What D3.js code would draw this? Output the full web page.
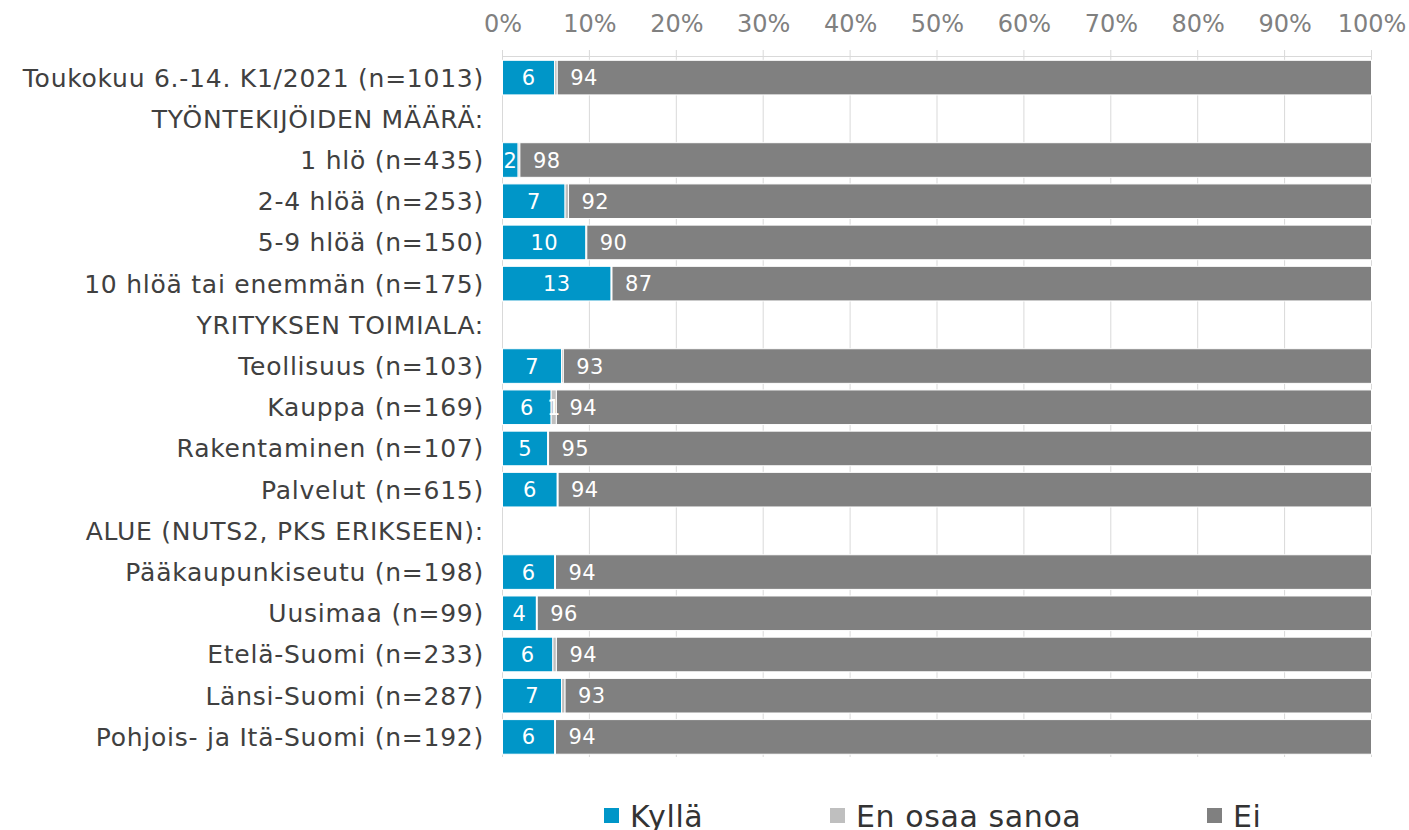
<!DOCTYPE html>
<html><head><meta charset="utf-8">
<script src="https://cdn.jsdelivr.net/npm/d3@7/dist/d3.min.js"></script>
<style>body{margin:0;background:#fff}svg{display:block}</style>
</head><body>
<svg id="c" width="1409" height="830"></svg>
<script>
const categories = [
  "Toukokuu 6.-14. K1/2021 (n=1013)",
  "TYÖNTEKIJÖIDEN MÄÄRÄ:",
  "1 hlö (n=435)",
  "2-4 hlöä (n=253)",
  "5-9 hlöä (n=150)",
  "10 hlöä tai enemmän (n=175)",
  "YRITYKSEN TOIMIALA:",
  "Teollisuus (n=103)",
  "Kauppa (n=169)",
  "Rakentaminen (n=107)",
  "Palvelut (n=615)",
  "ALUE (NUTS2, PKS ERIKSEEN):",
  "Pääkaupunkiseutu (n=198)",
  "Uusimaa (n=99)",
  "Etelä-Suomi (n=233)",
  "Länsi-Suomi (n=287)",
  "Pohjois- ja Itä-Suomi (n=192)"
];
const kylla = [6.0, null, 1.8, 7.2, 9.6, 12.5, null, 6.8, 5.6, 5.2, 6.3, null, 6.0, 3.9, 5.8, 6.8, 6.0];
const eos   = [0.3, null, 0.2, 0.4, 0.1, 0.1, null, 0.2, 0.6, 0.1, 0.1, null, 0.1, 0.1, 0.4, 0.4, 0.1];
const ei    = [93.7, null, 98.0, 92.4, 90.3, 87.4, null, 93.0, 93.8, 94.7, 93.6, null, 93.9, 96.0, 93.8, 92.8, 93.9];
const seriesNames = ["Kyllä", "En osaa sanoa", "Ei"];
const seriesColors = ["#0096c8", "#bfbfbf", "#808080"];
const xTicks = [0,10,20,30,40,50,60,70,80,90,100];

const svg = d3.select("#c");
const font = "Verdana, 'DejaVu Sans', sans-serif";
const x = d3.scaleLinear().domain([0,100]).range([502.5, 1371.5]);
const y = d3.scaleBand().domain(categories).range([57, 757.5]).paddingInner(0.16).paddingOuter(0.08);

// gridlines
svg.append("g").selectAll("line").data(xTicks).join("line")
  .attr("x1", d=>x(d)).attr("x2", d=>x(d)).attr("y1", 50).attr("y2", 757)
  .attr("stroke", "#d9d9d9").attr("stroke-width", 1);
svg.append("line").attr("x1", x(0)).attr("x2", x(100)).attr("y1", 56.5).attr("y2", 56.5)
  .attr("stroke", "#d9d9d9");

// top axis labels
const axis = d3.axisTop(x).tickValues(xTicks).tickFormat(d=>d+"%").tickSize(0).tickPadding(0);
const ag = svg.append("g").attr("transform","translate(0,32)").call(axis);
ag.select(".domain").remove();
ag.selectAll("text").attr("font-family", font).attr("font-size", 24).attr("fill", "#808080").attr("dy", 0);

// category labels
svg.append("g").selectAll("text").data(categories).join("text")
  .attr("x", 484).attr("y", d=>y(d)+y.bandwidth()/2).attr("dy", "0.36em")
  .attr("text-anchor","end").attr("font-family", font).attr("font-size", 25)
  .attr("letter-spacing", 0.75).attr("fill", "#404040")
  .text(d=>d);

// stacked bars
const series = [kylla, eos, ei];
const rows = categories.map((c,i)=>({c, vals: series.map(s=>s[i])})).filter(r=>r.vals[0]!==null);
const segs = [];
rows.forEach(r=>{
  let acc = 0;
  r.vals.forEach((v,k)=>{ segs.push({c:r.c, k, v, x0:acc, x1:acc+v}); acc += v; });
});
svg.append("g").selectAll("rect").data(segs).join("rect")
  .attr("x", d=>x(d.x0)).attr("width", d=>x(d.x1)-x(d.x0))
  .attr("y", d=>y(d.c)).attr("height", y.bandwidth())
  .attr("fill", d=>seriesColors[d.k]).attr("stroke", "#ffffff").attr("stroke-width", 1);

// data labels
svg.append("g").selectAll("text").data(segs.filter(d=>Math.round(d.v)>=1)).join("text")
  .attr("x", d=> d.k===2 ? x(d.x0)+13 : (x(d.x0)+x(d.x1))/2)
  .attr("text-anchor", d=> d.k===2 ? "start" : "middle")
  .attr("y", d=>y(d.c)+y.bandwidth()/2).attr("dy","0.36em")
  .attr("font-family", font).attr("font-size", 21).attr("letter-spacing", 0.4).attr("fill", "#ffffff")
  .text(d=>Math.round(d.v));

// legend
const legX = [604, 830, 1207];
const lg = svg.append("g").selectAll("g").data(seriesNames).join("g")
  .attr("transform", (d,i)=>`translate(${legX[i]},0)`);
lg.append("rect").attr("x",0).attr("y",808).attr("width",15).attr("height",15).attr("fill",(d,i)=>seriesColors[i]);
lg.append("text").attr("x", 26).attr("y", 827).attr("font-family", font).attr("font-size", 30)
  .attr("letter-spacing", 0.6).attr("fill", "#333333").text(d=>d);
</script>
</body></html>
